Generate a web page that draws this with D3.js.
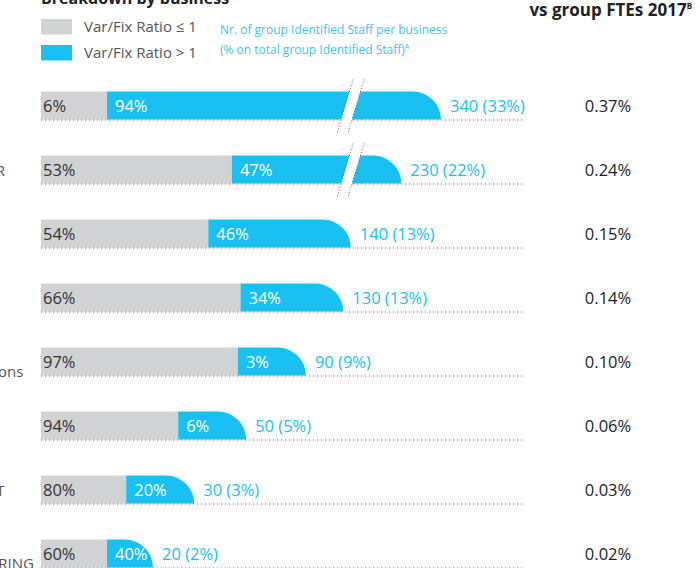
<!DOCTYPE html>
<meta charset="utf-8">
<style>
body { margin: 0; background: #fff; }
text { font-family: "Open Sans", sans-serif; }
.base line { stroke: #555; stroke-width: 1; stroke-dasharray: 1,3; }
.brk line { stroke: #555; stroke-width: 1; stroke-dasharray: 1,2; }
</style>
<svg width="700" height="568"></svg>
<script src="https://cdn.jsdelivr.net/npm/d3@7/dist/d3.min.js"></script>
<script>

// data
var businesses = [
  ["CIB"],
  ["GROUP CORPORATE CENTER"],
  ["COMMERCIAL BANKING", "ITALY"],
  ["COMMERCIAL BANKING", "GERMANY"],
  ["GROUP COO", "Central Functions & Operations"],
  ["COMMERCIAL BANKING", "AUSTRIA"],
  ["GLOBAL RISK MANAGEMENT"],
  ["GROUP HOLDING &", "NON CORE and RESTRUCTURING"]
];
var staff = [340, 230, 140, 130, 90, 50, 30, 20];
var staffShare = [33, 22, 13, 13, 9, 5, 3, 2];
var ratioLow = [6, 53, 54, 66, 97, 94, 80, 60];
var ratioHigh = [94, 47, 46, 34, 3, 6, 20, 40];
var fteShare = [0.37, 0.24, 0.15, 0.14, 0.10, 0.06, 0.03, 0.02];
var legendLabels = ["Var/Fix Ratio \u2264 1", "Var/Fix Ratio > 1"];
var noteLines = ["Nr. of group Identified Staff per business", "(% on total group Identified Staff)"];
var breakAt = 140;

var grey = "#d1d2d4", blue = "#18c1f1";

var svg = d3.select("svg");

var x0 = 41, lineEnd = 524, colX = 608;
var minGrey = 66, minBlue = 68;

var len = d3.scaleLog().domain([20, 340]).range([112, 400]);
var y = d3.scaleBand().domain(d3.range(staff.length))
    .range([91.5, 567.5]).paddingInner(36 / 64);
var h = y.bandwidth();

// title (cut at the top) and column header
svg.append("text").attr("x", x0).attr("y", 4)
    .attr("font-size", 16).attr("font-weight", "bold").attr("fill", "#222")
    .text("Breakdown by business");

var hdr = svg.append("text").attr("x", 692).attr("y", 15.5)
    .attr("text-anchor", "end")
    .attr("font-size", 17).attr("font-weight", "bold").attr("fill", "#222")
    .text("vs group FTEs 2017");
hdr.append("tspan").attr("font-size", 8).attr("dy", -7).text("B");

// legend
var lg = svg.append("g");
[grey, blue].forEach(function(c, i) {
  lg.append("rect").attr("x", x0).attr("y", 19 + i * 26)
      .attr("width", 31).attr("height", 15.5).attr("fill", c);
  lg.append("text").attr("x", 84).attr("y", 27 + i * 26).attr("dy", "0.35em")
      .attr("font-size", 15).attr("fill", "#555").text(legendLabels[i]);
});
noteLines.forEach(function(t, i) {
  var tx = lg.append("text").attr("x", 220).attr("y", 30 + i * 20).attr("dy", "0.35em")
      .attr("font-size", 12).attr("fill", "#3cc4f0").text(t);
  if (i == 1) tx.append("tspan").attr("font-size", 7).attr("dy", -5).text("A");
});

var rows = svg.append("g").selectAll("g")
    .data(staff.map(function(n, i) {
      var L = len(n);
      var g = Math.max(Math.min(L * ratioLow[i] / 100, L - minBlue), minGrey);
      return {i: i, n: n, L: L, g: g};
    }))
  .enter().append("g")
    .attr("transform", function(d) { return "translate(0," + y(d.i) + ")"; });

// category labels (partly outside the picture)
rows.append("text")
    .attr("font-size", 15).attr("fill", "#555")
    .each(function(d) {
      var lines = businesses[d.i];
      var t = d3.select(this);
      lines.forEach(function(s, k) {
        t.append("tspan").attr("x", -196)
            .attr("y", h / 2 + 1 + (k - (lines.length - 1) / 2) * 19)
            .attr("dy", "0.35em").text(s);
      });
    });

rows.append("rect")
    .attr("x", x0).attr("y", 0).attr("height", h)
    .attr("width", function(d) { return d.g; })
    .attr("fill", grey);

rows.append("path")
    .attr("fill", blue)
    .attr("d", function(d) {
      var xs = x0 + d.g, xe = x0 + d.L, r = Math.min(h, xe - xs);
      return "M" + xs + ",0H" + (xe - r) + "A" + r + "," + r + " 0 0 1 " + xe + "," + h + "H" + xs + "Z";
    });

// dotted base lines
rows.append("g").attr("class", "base").append("line")
    .attr("x1", x0).attr("x2", lineEnd)
    .attr("y1", h + 0.5).attr("y2", h + 0.5);

// axis break on the longest bars
var broken = rows.filter(function(d) { return d.n > breakAt; });
var bx = x0 + len(breakAt), slant = 0.3, gap = 5.5;
function cx(yy) { return bx - slant * (yy - h / 2); }
broken.append("path")
    .attr("fill", "#fff")
    .attr("d", "M" + (cx(-1) - gap) + ",-1L" + (cx(-1) + gap) + ",-1L" +
      (cx(h + 2) + gap) + "," + (h + 2) + "L" + (cx(h + 2) - gap) + "," + (h + 2) + "Z");
[-gap, gap].forEach(function(o) {
  broken.append("g").attr("class", "brk").append("line")
      .attr("x1", cx(-12) + o).attr("y1", -12)
      .attr("x2", cx(h + 13) + o).attr("y2", h + 13);
});

// value labels
rows.append("text")
    .attr("x", x0 + 2).attr("y", h / 2 + 1).attr("dy", "0.35em")
    .attr("font-size", 16.5).attr("fill", "#333")
    .text(function(d) { return ratioLow[d.i] + "%"; });

rows.append("text")
    .attr("x", function(d) { return x0 + d.g + 8; }).attr("y", h / 2 + 1).attr("dy", "0.35em")
    .attr("font-size", 16.5).attr("fill", "#fff")
    .text(function(d) { return ratioHigh[d.i] + "%"; });

rows.append("text")
    .attr("x", function(d) { return x0 + d.L + 9; }).attr("y", h / 2 + 1).attr("dy", "0.35em")
    .attr("font-size", 16.5).attr("fill", blue)
    .text(function(d) { return d.n + " (" + staffShare[d.i] + "%)"; });

rows.append("text")
    .attr("x", colX).attr("y", h / 2 + 1).attr("dy", "0.35em")
    .attr("text-anchor", "middle")
    .attr("font-size", 16.5).attr("fill", "#222")
    .text(function(d) { return d3.format(".2f")(fteShare[d.i]) + "%"; });

</script>
